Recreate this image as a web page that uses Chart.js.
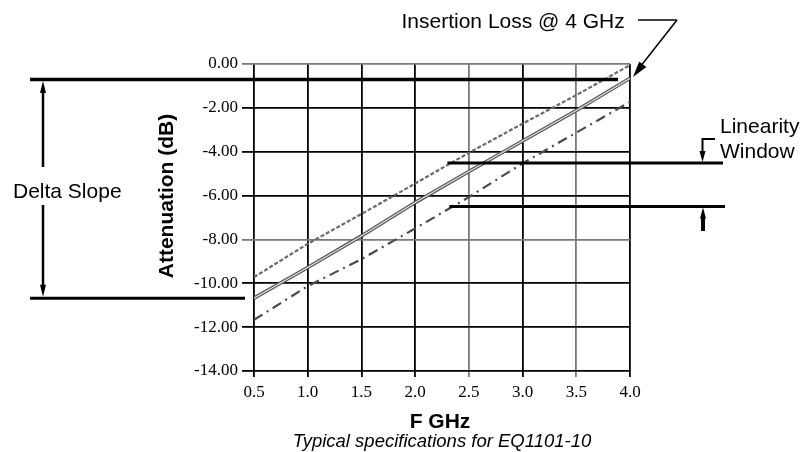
<!DOCTYPE html>
<html>
<head>
<meta charset="utf-8">
<script src="https://cdn.jsdelivr.net/npm/chart.js@4/dist/chart.umd.min.js"></script>
<style>
html,body{margin:0;padding:0;background:#fff;}
#wrap{width:803px;height:452px;position:relative;}
</style>
</head>
<body>
<div id="wrap"><canvas id="c" width="803" height="452"></canvas></div>
<script>
// ---- data ----
const freqGHz      = [0.5, 1.0, 1.5, 2.0, 2.5, 3.0, 3.5, 4.0];
const upperCurve   = [-9.72, -8.20, -6.84, -5.45, -4.05, -2.72, -1.42, -0.05];
const typicalCurve = [-10.68, -9.28, -7.84, -6.32, -4.90, -3.51, -2.12, -0.65];
const lowerCurve   = [-11.67, -10.13, -8.90, -7.50, -6.07, -4.53, -3.13, -1.73];
const xTickValues  = [0.5, 1.0, 1.5, 2.0, 2.5, 3.0, 3.5, 4.0];
const yTickValues  = [0, -2, -4, -6, -8, -10, -12, -14];
const insertionLossDb   = -0.71;
const deltaSlopeLowDb   = -10.68;
const linearityTopDb    = -4.52;
const linearityBottomDb = -6.50;
const linearityStartGHz = 2.3;

const pts = arr => freqGHz.map((f, i) => ({x: f, y: arr[i]}));

function line(ctx, x1, y1, x2, y2, w) {
  ctx.lineWidth = w;
  ctx.beginPath(); ctx.moveTo(x1, y1); ctx.lineTo(x2, y2); ctx.stroke();
}
function arrowHead(ctx, tx, ty, fx, fy, len, half) {
  const a = Math.atan2(ty - fy, tx - fx);
  ctx.beginPath();
  ctx.moveTo(tx, ty);
  ctx.lineTo(tx - len * Math.cos(a) + half * Math.sin(a), ty - len * Math.sin(a) - half * Math.cos(a));
  ctx.lineTo(tx - len * Math.cos(a) - half * Math.sin(a), ty - len * Math.sin(a) + half * Math.cos(a));
  ctx.closePath(); ctx.fill();
}

const annotations = {
  id: 'annotations',
  afterDraw(chart) {
    const {ctx, scales: {x, y}} = chart;
    const yIL = y.getPixelForValue(insertionLossDb);
    const yDS = y.getPixelForValue(deltaSlopeLowDb);
    const yLT = y.getPixelForValue(linearityTopDb);
    const yLB = y.getPixelForValue(linearityBottomDb);
    const xLS = x.getPixelForValue(linearityStartGHz);
    ctx.save();
    ctx.strokeStyle = '#000'; ctx.fillStyle = '#000'; ctx.lineCap = 'butt';
    // insertion loss / delta slope levels
    line(ctx, 30, yIL, 618, yIL, 3.5);
    line(ctx, 30, yDS, 245, yDS, 3);
    // delta slope arrow
    line(ctx, 43, yIL + 8, 43, 167, 2.5);
    line(ctx, 43, 205, 43, yDS - 8, 2.5);
    arrowHead(ctx, 43, yIL + 1.5, 43, yIL + 20, 12, 3);
    arrowHead(ctx, 43, yDS - 1.5, 43, yDS - 20, 12, 3);
    // linearity window lines
    line(ctx, xLS, yLT, 723, yLT, 3);
    line(ctx, xLS + 2, yLB, 725, yLB, 3);
    ctx.lineWidth = 2;
    ctx.beginPath(); ctx.moveTo(715, 139); ctx.lineTo(702.5, 139); ctx.lineTo(702.5, yLT - 8); ctx.stroke();
    arrowHead(ctx, 702.5, yLT - 1, 702.5, yLT - 20, 11, 3);
    line(ctx, 703, yLB + 9, 703, 231, 4);
    arrowHead(ctx, 703, yLB + 1, 703, yLB + 20, 11, 3);
    // insertion loss arrow
    line(ctx, 638, 20, 677, 20, 1.5);
    line(ctx, 677, 20, 640, 67, 1.5);
    arrowHead(ctx, 633, 77, 677, 20, 16, 4.5);
    // texts
    ctx.font = '21px "Liberation Sans", Arial, sans-serif';
    ctx.textBaseline = 'alphabetic'; ctx.textAlign = 'left';
    ctx.fillText('Insertion Loss @ 4 GHz', 401.5, 28.3);
    ctx.fillText('Delta Slope', 13, 198.3);
    ctx.fillText('Linearity', 720, 132.7);
    ctx.fillText('Window', 720, 158.3);
    ctx.font = 'bold 21px "Liberation Sans", Arial, sans-serif';
    ctx.textAlign = 'center';
    ctx.fillText('F GHz', 440, 427.5);
    ctx.save();
    ctx.translate(173.3, 196); ctx.rotate(-Math.PI / 2);
    ctx.fillText('Attenuation (dB)', 0, 0);
    ctx.restore();
    ctx.font = 'italic 18.5px "Liberation Sans", Arial, sans-serif';
    ctx.fillText('Typical specifications for EQ1101-10', 442, 447);
    ctx.restore();
  }
};

new Chart(document.getElementById('c'), {
  type: 'line',
  data: {
    datasets: [
      {label: 'Upper', data: pts(upperCurve), borderColor: '#6a6a6a', borderWidth: 2.2,
       borderDash: [4, 2], pointRadius: 0, order: 3},
      {label: 'Typical inner', data: pts(typicalCurve), borderColor: '#e4e4e4', borderWidth: 1.1,
       pointRadius: 0, order: 1},
      {label: 'Typical', data: pts(typicalCurve), borderColor: '#555', borderWidth: 3.6,
       pointRadius: 0, order: 2},
      {label: 'Lower', data: pts(lowerCurve), borderColor: '#4a4a4a', borderWidth: 2.2,
       borderDash: [10, 5, 2, 5], pointRadius: 0, order: 4}
    ]
  },
  options: {
    responsive: false, animation: false, devicePixelRatio: 1,
    layout: {padding: {top: 64, right: 173, left: 0, bottom: 0}},
    plugins: {legend: {display: false}, tooltip: {enabled: false}, title: {display: false}},
    elements: {line: {tension: 0, fill: false}},
    scales: {
      x: {
        type: 'linear', min: 0.5, max: 4.0,
        afterBuildTicks: s => { s.ticks = xTickValues.map(v => ({value: v})); },
        afterFit: s => { s.height = 81; },
        ticks: {font: {family: '"Liberation Serif", "Times New Roman", serif', size: 17},
                color: '#000', padding: 5, maxRotation: 0, autoSkip: false,
                callback: v => Number(v).toFixed(1)},
        grid: {color: c => (c.tick && (c.tick.value === 2.5 || c.tick.value === 3.5)) ? '#7a7a7a' : '#000',
               lineWidth: 1.8, tickLength: 6, drawTicks: true},
        border: {display: false}
      },
      y: {
        type: 'linear', min: -14, max: 0,
        afterBuildTicks: s => { s.ticks = yTickValues.map(v => ({value: v})); },
        afterFit: s => { s.width = 254; },
        ticks: {font: {family: '"Liberation Serif", "Times New Roman", serif', size: 17},
                color: '#000', padding: 4, autoSkip: false,
                callback: v => Number(v).toFixed(2)},
        grid: {color: c => (c.tick && (c.tick.value === 0 || c.tick.value === -8)) ? '#7a7a7a' : '#000',
               lineWidth: 1.8, tickLength: 12, drawTicks: true},
        border: {display: false}
      }
    }
  },
  plugins: [annotations]
});
</script>
</body>
</html>
